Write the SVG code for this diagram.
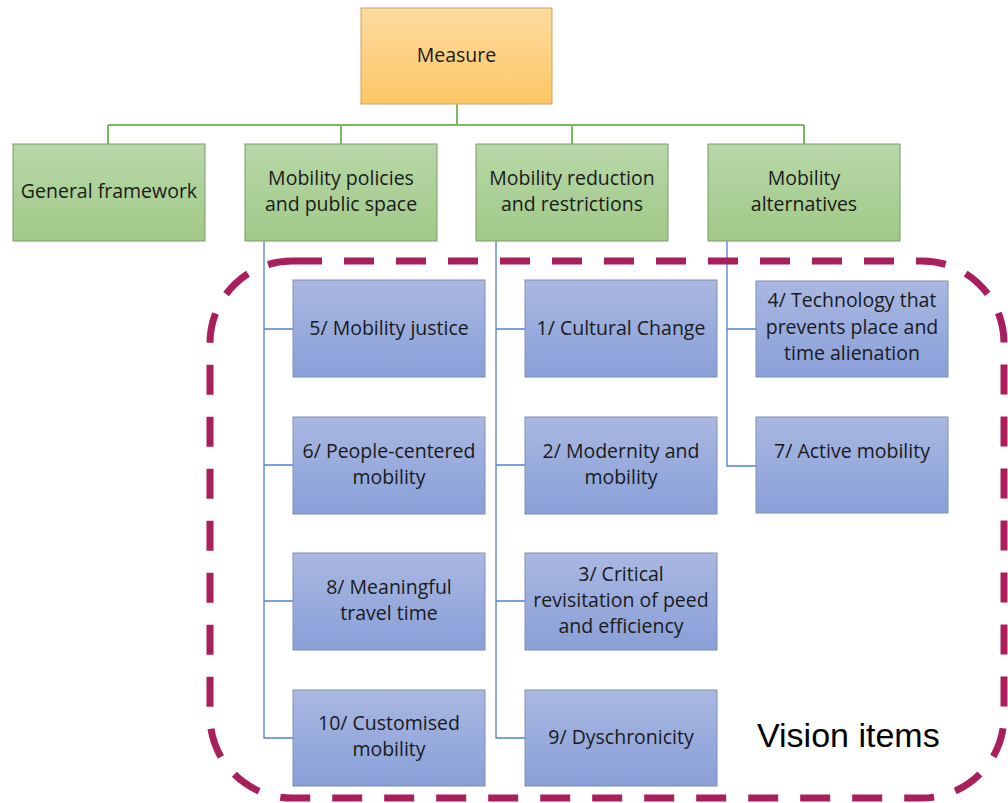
<svg xmlns="http://www.w3.org/2000/svg" width="1008" height="803" viewBox="0 0 1008 803">
<defs>
<linearGradient id="gOrange" x1="0" y1="0" x2="0" y2="1"><stop offset="0" stop-color="#fddb9e"/><stop offset="1" stop-color="#fcc766"/></linearGradient>
<linearGradient id="gGreen" x1="0" y1="0" x2="0" y2="1"><stop offset="0" stop-color="#b8d8a8"/><stop offset="1" stop-color="#a0c988"/></linearGradient>
<linearGradient id="gBlue" x1="0" y1="0" x2="0" y2="1"><stop offset="0" stop-color="#aab8e2"/><stop offset="1" stop-color="#889fd7"/></linearGradient>
</defs>
<style>
.t{font-family:"Open Sans","Liberation Sans",Arial,sans-serif;font-size:19.5px;fill:#1a1a1a;text-anchor:middle}
.o{fill:url(#gOrange);stroke:#c8a460;stroke-width:1}
.g{fill:url(#gGreen);stroke:#7a9a66;stroke-width:1}
.b{fill:url(#gBlue);stroke:#7f8fb0;stroke-width:1}
.cg{fill:none;stroke:#7cbb5c;stroke-width:2}
.cb{fill:none;stroke:#4f7fd6;stroke-width:1.3}
</style>
<rect x="0" y="0" width="1008" height="803" fill="#ffffff"/>
<g id="connectors">
<path class="cg" d="M457 104V125M108 125H804M108 125V144M341 125V144M572 125V144M804 125V144"/>
<path class="cb" d="M264 241V738H293M264 329H293M264 465H293M264 601H293"/>
<path class="cb" d="M496 241V738H525M496 329H525M496 465H525M496 601H525"/>
<path class="cb" d="M727 241V466H756M727 329H756"/>
</g>
<g id="vision-boundary">
<rect x="210" y="261" width="794" height="537" rx="82" ry="82" fill="none" stroke="#a81f5c" stroke-width="7" stroke-dasharray="30 22"/>
</g>
<g id="measure"><rect class="o" x="361" y="8" width="191" height="96"/><text class="t" x="456.5" y="62" font-size="20">Measure</text></g>
<g id="general-framework"><rect class="g" x="13" y="144" width="192" height="97"/><text class="t" x="109" y="198">General framework</text></g>
<g id="mobility-policies"><rect class="g" x="245" y="144" width="192" height="97"/><text class="t" x="341" y="185">Mobility policies</text><text class="t" x="341" y="211">and public space</text></g>
<g id="mobility-reduction"><rect class="g" x="476" y="144" width="192" height="97"/><text class="t" x="572" y="185">Mobility reduction</text><text class="t" x="572" y="211">and restrictions</text></g>
<g id="mobility-alternatives"><rect class="g" x="708" y="144" width="192" height="97"/><text class="t" x="804" y="185">Mobility</text><text class="t" x="804" y="211">alternatives</text></g>
<g id="item5"><rect class="b" x="293" y="280" width="192" height="97"/><text class="t" x="389" y="335">5/ Mobility justice</text></g>
<g id="item6"><rect class="b" x="293" y="417" width="192" height="97"/><text class="t" x="389" y="458">6/ People-centered</text><text class="t" x="389" y="484">mobility</text></g>
<g id="item8"><rect class="b" x="293" y="553" width="192" height="97"/><text class="t" x="389" y="594">8/ Meaningful</text><text class="t" x="389" y="620">travel time</text></g>
<g id="item10"><rect class="b" x="293" y="690" width="192" height="96"/><text class="t" x="389" y="730">10/ Customised</text><text class="t" x="389" y="756">mobility</text></g>
<g id="item1"><rect class="b" x="525" y="280" width="192" height="97"/><text class="t" x="621" y="335">1/ Cultural Change</text></g>
<g id="item2"><rect class="b" x="525" y="417" width="192" height="97"/><text class="t" x="621" y="458">2/ Modernity and</text><text class="t" x="621" y="484">mobility</text></g>
<g id="item3"><rect class="b" x="525" y="553" width="192" height="97"/><text class="t" x="621" y="581">3/ Critical</text><text class="t" x="621" y="607">revisitation of peed</text><text class="t" x="621" y="633">and efficiency</text></g>
<g id="item9"><rect class="b" x="525" y="690" width="192" height="96"/><text class="t" x="621" y="744">9/ Dyschronicity</text></g>
<g id="item4"><rect class="b" x="756" y="281" width="192" height="96"/><text class="t" x="852" y="307">4/ Technology that</text><text class="t" x="852" y="334">prevents place and</text><text class="t" x="852" y="360">time alienation</text></g>
<g id="item7"><rect class="b" x="756" y="417" width="192" height="96"/><text class="t" x="852" y="458">7/ Active mobility</text></g>
<text x="757" y="747" font-family="'Liberation Sans',Arial,sans-serif" font-size="34" fill="#000">Vision items</text>
</svg>
